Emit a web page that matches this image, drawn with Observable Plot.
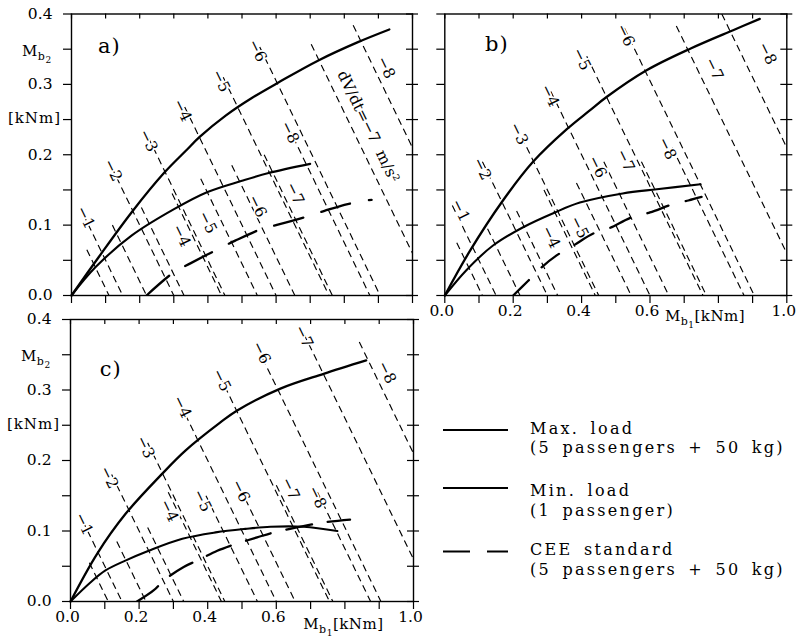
<!DOCTYPE html>
<html>
<head>
<meta charset="utf-8">
<script src="https://cdn.jsdelivr.net/npm/d3@7"></script>
<script src="https://cdn.jsdelivr.net/npm/@observablehq/plot@0.6"></script>
<style>
html,body{margin:0;padding:0;background:#fff;}
#chart{position:relative;width:797px;height:640px;overflow:hidden;background:#fff;}
#chart svg{position:absolute;overflow:visible;}
</style>
</head>
<body>
<div id="chart"></div>
<script>
const FONT = "DejaVu Serif";

// ---- axis ticks ----
const xTicks = [0, 0.1, 0.2, 0.3, 0.4, 0.5, 0.6, 0.7, 0.8, 0.9, 1.0];
const xTickLabels = [0, 0.2, 0.4, 0.6, 1.0];
const yTicks = [0, 0.05, 0.1, 0.15, 0.2, 0.25, 0.3, 0.35, 0.4];
const yTickLabels = [0, 0.1, 0.2, 0.3, 0.4];

// ---- iso-deceleration lines (M_b1 + M_b2 = const) ----
const decel = [1, 2, 3, 4, 5, 6, 7, 8];
const maxLoadSum = [0.15, 0.30, 0.45, 0.60, 0.755, 0.905, 1.06, 1.21];
const minLoadSum = [0.11, 0.22, 0.33, 0.44, 0.545, 0.655, 0.765, 0.875];
const minLabelled = [4, 5, 6, 7, 8];

// ---- panel a ----
const aMaxLoad = [[0,0],[0.079,0.054],[0.176,0.118],[0.273,0.175],[0.336,0.206],[0.375,0.225],[0.453,0.256],[0.53,0.281],[0.608,0.303],[0.724,0.334],[0.84,0.36],[0.932,0.378]];
const aMinLoad = [[0,0],[0.07,0.04],[0.176,0.085],[0.302,0.123],[0.399,0.147],[0.5,0.163],[0.578,0.174],[0.70,0.187]];
const aCEE = [[0.22,0],[0.30,0.033],[0.35,0.046],[0.43,0.066],[0.48,0.078],[0.56,0.095],[0.60,0.1],[0.675,0.11],[0.74,0.12],[0.81,0.13],[0.88,0.136]];
const aMaxTop = [0.116, 0.183, 0.225, 0.268, 0.31, 0.353, 0.357, 0.384];
const aMinTop = [0.065, 0.10, 0.125, 0.145, 0.166, 0.185, 0.20, 0.24];
const aMaxLabX = [0.041, 0.121, 0.225, 0.325, 0.438, 0.545, 0.87, 0.922];
const aMaxLabY = [0.111, 0.178, 0.22, 0.263, 0.305, 0.348, 0.24, 0.324];
const aMaxText = ["−1","−2","−3","−4","−5","−6","dV/dt=−7  m/s²","−8"];
const aMinLabX = [0.322, 0.399, 0.545, 0.655, 0.64];
const aMinLabY = [0.085, 0.104, 0.127, 0.145, 0.232];

// ---- panel b ----
const bMaxLoad = [[0,0],[0.073,0.063],[0.17,0.135],[0.258,0.19],[0.356,0.236],[0.424,0.263],[0.473,0.282],[0.59,0.32],[0.719,0.351],[0.843,0.377],[0.921,0.393]];
const bMinLoad = [[0,0],[0.063,0.036],[0.141,0.071],[0.229,0.097],[0.322,0.118],[0.395,0.132],[0.52,0.145],[0.62,0.151],[0.748,0.158]];
const bCEE = [[0.2,0],[0.244,0.021],[0.283,0.04],[0.327,0.057],[0.376,0.071],[0.434,0.088],[0.478,0.095],[0.546,0.111],[0.6,0.118],[0.668,0.13],[0.712,0.135],[0.751,0.14]];
const bMaxTop = [0.128, 0.19, 0.24, 0.29, 0.34, 0.38, 0.383, 0.40];
const bMinTop = [0.075, 0.095, 0.12, 0.15, 0.16, 0.19, 0.19, 0.21];
const bMaxLabX = [0.046, 0.109, 0.216, 0.307, 0.40, 0.528, 0.787, 0.943];
const bMaxLabY = [0.121, 0.18, 0.23, 0.284, 0.336, 0.37, 0.322, 0.344];
const bMinLabX = [0.31, 0.393, 0.446, 0.528, 0.65];
const bMinLabY = [0.083, 0.097, 0.183, 0.192, 0.209];

// ---- panel c ----
const cMaxLoad = [[0,0],[0.078,0.068],[0.16,0.124],[0.267,0.181],[0.335,0.214],[0.437,0.254],[0.486,0.271],[0.612,0.302],[0.738,0.323],[0.862,0.342]];
const cMinLoad = [[0,0],[0.058,0.027],[0.102,0.044],[0.16,0.058],[0.228,0.072],[0.326,0.089],[0.423,0.098],[0.51,0.103],[0.583,0.106],[0.68,0.106],[0.778,0.1]];
const cCEE = [[0.194,0],[0.243,0.016],[0.272,0.03],[0.33,0.049],[0.369,0.058],[0.428,0.072],[0.466,0.079],[0.544,0.091],[0.593,0.098],[0.70,0.109],[0.734,0.112],[0.815,0.116]];
const cMaxTop = [0.115, 0.18, 0.225, 0.28, 0.32, 0.36, 0.38, 0.368];
const cMinTop = [0.055, 0.085, 0.105, 0.155, 0.15, 0.16, 0.165, 0.155];
const cMaxLabX = [0.039, 0.112, 0.218, 0.325, 0.44, 0.556, 0.68, 0.922];
const cMaxLabY = [0.11, 0.176, 0.219, 0.276, 0.314, 0.353, 0.376, 0.325];
const cMinLabX = [0.287, 0.384, 0.496, 0.641, 0.719];
const cMinLabY = [0.129, 0.143, 0.157, 0.16, 0.148];

// ---- legend ----
const legendNames = ["Max. load", "Min. load", "CEE standard"];
const legendNotes = ["(5 passengers + 50 kg)", "(1 passenger)", "(5 passengers + 50 kg)"];

const panels = [
  {letter:"a)", left:0, top:0, width:420, height:310, ml:71, mr:8, mt:13.5, mb:15,
   maxLoad:aMaxLoad, minLoad:aMinLoad, cee:aCEE, dash:"30,19",
   maxTop:aMaxTop, minTop:aMinTop, maxLabX:aMaxLabX, maxLabY:aMaxLabY, maxText:aMaxText,
   minLabX:aMinLabX, minLabY:aMinLabY, yLabels:true, xLabels:false,
   letterX:0.079, letterY:0.344},
  {letter:"b)", left:420, top:0, width:377, height:340, ml:24.3, mr:10.7, mt:13.5, mb:45,
   maxLoad:bMaxLoad, minLoad:bMinLoad, cee:bCEE, dash:"22,18",
   maxTop:bMaxTop, minTop:bMinTop, maxLabX:bMaxLabX, maxLabY:bMaxLabY, maxText:null,
   minLabX:bMinLabX, minLabY:bMinLabY, yLabels:false, xLabels:true,
   letterX:0.119, letterY:0.347, xTitleX:0.645, xTitleDy:26},
  {letter:"c)", left:0, top:305, width:420, height:335, ml:70, mr:7, mt:14, mb:39,
   maxLoad:cMaxLoad, minLoad:cMinLoad, cee:cCEE, dash:"26,16",
   maxTop:cMaxTop, minTop:cMinTop, maxLabX:cMaxLabX, maxLabY:cMaxLabY, maxText:null,
   minLabX:cMinLabX, minLabY:cMinLabY, yLabels:true, xLabels:true,
   letterX:0.087, letterY:0.319, xTitleX:0.68, xTitleDy:28}
];

const chart = document.getElementById("chart");

function addM(svg, x, y, sub, tail) {
  const t = d3.select(svg).append("text")
    .attr("x", x).attr("y", y).attr("text-anchor", "start")
    .attr("font-family", FONT).attr("font-size", 15).attr("fill", "#000")
    .style("letter-spacing", "0.5px");
  t.append("tspan").text("M");
  t.append("tspan").attr("font-size", 11).attr("dy", 4).text("b");
  t.append("tspan").attr("font-size", 9).attr("dy", 3).text(sub);
  if (tail) t.append("tspan").attr("font-size", 15).attr("dy", -7).text(tail);
}

panels.forEach(P => {
  const kx = 1 / (P.width - P.ml - P.mr);
  const ky = 0.4 / (P.height - P.mt - P.mb);
  const iso = [];
  decel.forEach((n, i) => {
    iso.push({S: maxLoadSum[i], top: P.maxTop[i]});
    iso.push({S: minLoadSum[i], top: P.minTop[i]});
  });
  const labels = decel.map((n, i) => ({x: P.maxLabX[i], y: P.maxLabY[i], t: P.maxText ? P.maxText[i] : "−" + n}))
    .concat(minLabelled.map((n, i) => ({x: P.minLabX[i], y: P.minLabY[i], t: "−" + n})));
  const marks = [
    Plot.link(iso, {x1: d => d.S - d.top, y1: d => d.top, x2: d => d.S, y2: d => 0,
      stroke: "#000", strokeWidth: 1.15, strokeDasharray: "7,4.5", clip: true}),
    Plot.text(labels, {x: "x", y: "y", text: "t", rotate: 64, fontSize: 15.5, fontFamily: FONT,
      fill: "#000", stroke: "#fff", strokeWidth: 3.5}),
    Plot.line(P.maxLoad, {x: d => d[0], y: d => d[1], curve: "catmull-rom", stroke: "#000", strokeWidth: 2.3}),
    Plot.line(P.minLoad, {x: d => d[0], y: d => d[1], curve: "catmull-rom", stroke: "#000", strokeWidth: 2.1}),
    Plot.line(P.cee, {x: d => d[0], y: d => d[1], curve: "catmull-rom", stroke: "#000", strokeWidth: 2.3,
      strokeDasharray: P.dash, clip: true}),
    Plot.frame({stroke: "#000", strokeWidth: 1.4}),
    // ticks
    Plot.ruleY(yTicks, {y: d => d, x1: d => -8 * kx, x2: d => 0, stroke: "#000", strokeWidth: 1.2}),
    Plot.ruleY(yTicks, {y: d => d, x1: d => 1 - 6 * kx, x2: d => 1 + 6 * kx, stroke: "#000", strokeWidth: 1.2}),
    Plot.ruleX(xTicks, {x: d => d, y1: d => 0.4 - 5 * ky, y2: d => 0.4, stroke: "#000", strokeWidth: 1.2}),
    Plot.ruleX(xTicks, {x: d => d, y1: d => -8 * ky, y2: d => 0, stroke: "#000", strokeWidth: 1.2})
  ];
  if (P.yLabels) marks.push(Plot.text(yTickLabels, {x: d => 0, y: d => d, text: d => d.toFixed(1),
    dx: -19, textAnchor: "end", fontSize: 15.5, fontFamily: FONT, fill: "#000"}));
  if (P.xLabels) marks.push(Plot.text(xTickLabels, {x: d => d, y: d => 0, text: d => d.toFixed(1),
    dy: 16, dx: -3, textAnchor: "middle", fontSize: 15.5, fontFamily: FONT, fill: "#000"}));

  const svg = Plot.plot({
    width: P.width, height: P.height,
    marginLeft: P.ml, marginRight: P.mr, marginTop: P.mt, marginBottom: P.mb,
    x: {domain: [0, 1], axis: null},
    y: {domain: [0, 0.4], axis: null},
    style: {fontFamily: FONT, fontSize: "15px", background: "transparent", overflow: "visible"},
    marks
  });
  svg.style.left = P.left + "px";
  svg.style.top = P.top + "px";
  const sx = svg.scale("x"), sy = svg.scale("y");

  // panel letter
  d3.select(svg).append("text").attr("x", sx.apply(P.letterX)).attr("y", sy.apply(P.letterY))
    .attr("text-anchor", "start")
    .attr("font-family", FONT).attr("font-size", 21).attr("fill", "#000").style("letter-spacing", "1px")
    .text(P.letter);
  if (P.yLabels) {
    addM(svg, P.ml - 49, sy.apply(0.34), "2", null);
    d3.select(svg).append("text").attr("x", P.ml - 36.5).attr("y", sy.apply(0.244))
      .attr("text-anchor", "middle").attr("font-family", FONT).attr("font-size", 15)
      .attr("fill", "#000").style("letter-spacing", "1px").text("[kNm]");
  }
  if (P.xLabels) {
    addM(svg, sx.apply(P.xTitleX), sy.apply(0) + P.xTitleDy, "1", "[kNm]");
  }
  chart.appendChild(svg);
});

// legend
const lg = d3.select(chart).append("svg").attr("width", 797).attr("height", 640)
  .style("left", "0px").style("top", "0px");
const lineY = [430, 488, 551.5];
const titleY = [434, 496, 555];
const noteY = [453, 516, 575];
legendNames.forEach((name, i) => {
  const ln = lg.append("line").attr("x1", 443).attr("x2", 508).attr("y1", lineY[i]).attr("y2", lineY[i])
    .attr("stroke", "#000").attr("stroke-width", 1.8);
  if (i === 2) ln.attr("stroke-dasharray", "27,17");
  [[titleY[i], name], [noteY[i], legendNotes[i]]].forEach(([y, s]) => {
    lg.append("text").attr("x", 530).attr("y", y).attr("text-anchor", "start")
      .attr("font-family", FONT).attr("font-size", 16)
      .attr("fill", "#000").style("letter-spacing", "2.3px").style("word-spacing", "4px")
      .style("white-space", "pre").text(s);
  });
});
</script>
</body>
</html>
